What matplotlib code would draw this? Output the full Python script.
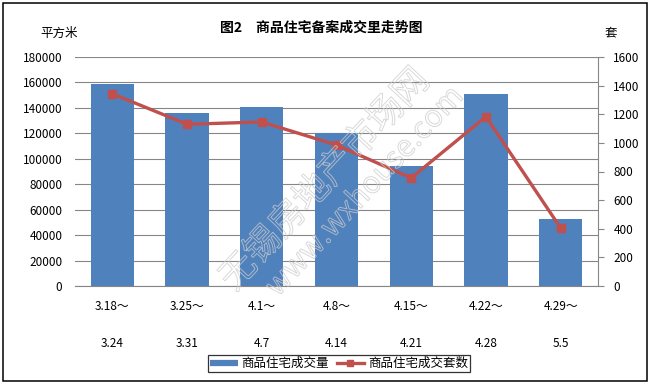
import matplotlib
matplotlib.use("Agg")
import matplotlib.pyplot as plt
from matplotlib.lines import Line2D
from matplotlib.patches import Rectangle, PathPatch
from matplotlib.textpath import TextPath
from matplotlib.font_manager import FontProperties
from matplotlib.transforms import Affine2D
import numpy as np

plt.rcParams['font.family'] = ['Noto Sans CJK SC', 'DejaVu Sans']

# ---- data ----
periods_start = ["3.18～", "3.25～", "4.1～", "4.8～", "4.15～", "4.22～", "4.29～"]
periods_end = ["3.24", "3.31", "4.7", "4.14", "4.21", "4.28", "5.5"]
area = [159000, 136000, 140600, 120400, 94500, 151100, 52700]      # 平方米
units = [1343, 1130, 1146, 985, 755, 1183, 405]                    # 套
left_ticks = list(range(0, 180001, 20000))
right_ticks = list(range(0, 1601, 200))
title = "图2　商品住宅备案成交里走势图"
bar_label = "商品住宅成交量"
line_label = "商品住宅成交套数"

BLUE = "#4F81BD"
RED = "#C0504D"
GRID = "#868686"
FS = 8.5

W, H = 649, 383
fig = plt.figure(figsize=(W / 100, H / 100), dpi=100)
fig.patch.set_facecolor("white")

ax = fig.add_axes([75 / W, 1 - 286 / H, (598 - 75) / W, (286 - 57) / H])
x = np.arange(len(area))
ax.bar(x, area, width=0.58, color=BLUE, zorder=2)
ax.set_xlim(-0.5, len(area) - 0.5)
ax.set_ylim(0, 180000)
ax.set_yticks(left_ticks)
ax.set_yticklabels([str(v) for v in left_ticks])
ax.yaxis.grid(True, color=GRID, linewidth=0.8, zorder=0)
ax.set_axisbelow(True)
ax.tick_params(axis='y', length=0, pad=9, labelsize=FS)
for s in ["left", "top", "right"]:
    ax.spines[s].set_visible(False)
ax.spines["bottom"].set_color(GRID)
ax.spines["bottom"].set_linewidth(0.8)

# two-row category labels
ax.set_xticks(x)
ax.set_xticklabels(periods_start)
ax.set_xticks(x, minor=True)
ax.set_xticklabels(periods_end, minor=True)
ax.xaxis.remove_overlapping_locs = False
ax.tick_params(axis='x', which='major', length=0, pad=10, labelsize=FS)
ax.tick_params(axis='x', which='minor', length=0, pad=37, labelsize=FS)

ax2 = ax.twinx()
ax2.plot(x, units, color=RED, linewidth=2.4, marker="s", markersize=6,
         markerfacecolor=RED, markeredgecolor=RED, zorder=3)
ax2.set_ylim(0, 1600)
ax2.set_yticks(right_ticks)
ax2.set_yticklabels([str(v) for v in right_ticks])
ax2.tick_params(axis='y', direction='out', length=4, width=0.8, color=GRID, pad=7,
                labelsize=FS)
for s in ["left", "top", "bottom"]:
    ax2.spines[s].set_visible(False)
ax2.spines["right"].set_color(GRID)
ax2.spines["right"].set_linewidth(0.8)

# watermark (hollow outlined text)
def watermark(s, cx, cy, size, angle):
    tp = TextPath((0, 0), s, size=size, prop=FontProperties(family='Noto Sans CJK SC'))
    ext = tp.get_extents()
    tr = (Affine2D().translate(-(ext.x0 + ext.x1) / 2, -(ext.y0 + ext.y1) / 2)
          .rotate_deg(angle).translate(cx, H - cy))
    fig.patches.append(PathPatch(tp, transform=tr, fill=False,
                                 edgecolor=(0.8, 0.8, 0.8, 0.75), linewidth=0.7, zorder=10))

watermark("无锡房地产市场网", 322, 178, 36, 47)
watermark("www.wxhouse.com", 362, 190, 30, 47)

# titles
fig.text(321 / W, 1 - 28 / H, title, fontsize=10, fontweight="bold",
         ha="center", va="center")
fig.text(59 / W, 1 - 33 / H, "平方米", fontsize=9, ha="center", va="center")
fig.text(611 / W, 1 - 33 / H, "套", fontsize=9, ha="center", va="center")

# legend
handles = [Line2D([], [], color=BLUE, linewidth=4.5, solid_capstyle="butt"),
           Line2D([], [], color=RED, linewidth=2.4, marker="s", markersize=5)]
leg = fig.legend(handles, [bar_label, line_label], loc="center",
                 bbox_to_anchor=(339 / W, 1 - 363.5 / H), ncol=2, fontsize=9,
                 frameon=True, fancybox=False, handlelength=2.2, handletextpad=0.3,
                 columnspacing=0.6, borderpad=0.15, borderaxespad=0)
leg.get_frame().set_edgecolor("black")
leg.get_frame().set_linewidth(0.9)

# outer chart border
fig.patches.append(Rectangle((2.5 / W, 1 - 381 / H), (647 - 2.5) / W, (381 - 3) / H,
                             transform=fig.transFigure, fill=False,
                             edgecolor="black", linewidth=1.1, zorder=20))

fig.savefig("out.png", dpi=100, facecolor="white")
